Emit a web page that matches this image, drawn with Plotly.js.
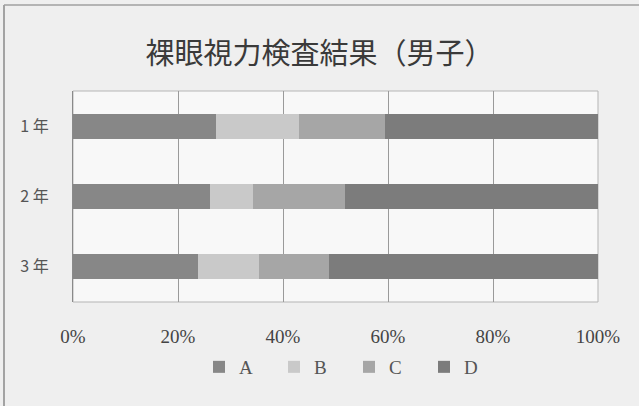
<!DOCTYPE html>
<html>
<head>
<meta charset="utf-8">
<script src="https://cdn.plot.ly/plotly-3.0.1.min.js"></script>
<style>html,body{margin:0;padding:0;background:#efefef;}#chart{width:639px;height:406px;}</style>
</head>
<body>
<div id="chart"></div>
<script>
const grades = ['1 年', '2 年', '3 年'];
const seriesNames = ['A', 'B', 'C', 'D'];
const valuesA = [27.2, 26.1, 23.9];
const valuesB = [15.9, 8.1, 11.5];
const valuesC = [16.3, 17.7, 13.3];
const valuesD = [40.6, 48.1, 51.3];
const xTickVals = [0, 20, 40, 60, 80, 100];
const xTickText = ['0%', '20%', '40%', '60%', '80%', '100%'];
const titleText = '裸眼視力検査結果（男子）';

const allValues = [valuesA, valuesB, valuesC, valuesD];
const colors = ['#878787', '#c9c9c9', '#a6a6a6', '#7c7c7c'];

const traces = allValues.map((vals, i) => ({
  type: 'bar',
  orientation: 'h',
  name: seriesNames[i],
  y: grades,
  x: vals,
  marker: {color: colors[i], line: {width: 0}},
  hoverinfo: 'none'
}));

const W = 525, H = 211, L = 73, T = 91;
const px = x => (x - L) / W;
const py = y => (T + H - y) / H;

const layout = {
  width: 639, height: 406,
  margin: {l: 73, r: 41, t: 91, b: 104},
  paper_bgcolor: '#efefef',
  plot_bgcolor: '#f8f8f8',
  barmode: 'stack',
  bargap: 0.64,
  showlegend: true,
  title: {
    text: titleText,
    font: {family: 'Noto Sans CJK JP', size: 29, color: '#3a3a3a'},
    x: 0.5, xanchor: 'center', y: 0.868, yanchor: 'middle'
  },
  xaxis: {
    range: [0, 100],
    tickvals: xTickVals,
    ticktext: xTickText,
    showgrid: true,
    gridcolor: '#9a9a9a',
    gridwidth: 1,
    zeroline: false,
    showline: false,
    ticks: '',
    ticklabelstandoff: 21,
    tickfont: {family: 'Liberation Serif, DejaVu Serif, serif', size: 19, color: '#444'},
    fixedrange: true
  },
  yaxis: {
    autorange: 'reversed',
    showgrid: false,
    zeroline: false,
    showline: true,
    linecolor: '#8a8a8a',
    linewidth: 1,
    ticks: '',
    ticklabelstandoff: 20,
    tickfont: {family: 'Noto Sans CJK JP', size: 16, color: '#555'},
    fixedrange: true
  },
  legend: {
    orientation: 'h',
    x: px(199), xanchor: 'left',
    y: py(367), yanchor: 'middle',
    font: {family: 'Liberation Serif, DejaVu Serif, serif', size: 19, color: '#555'},
    bgcolor: 'rgba(0,0,0,0)',
    itemwidth: 30,
    entrywidth: 30,
    entrywidthmode: 'pixels',
    traceorder: 'normal',
    itemclick: false
  },
  shapes: [
    {type: 'rect', xref: 'paper', yref: 'paper', x0: 0, x1: 1, y0: 0, y1: 1,
     line: {color: '#b5b5b5', width: 1}, layer: 'below'},
    {type: 'line', xref: 'paper', yref: 'paper', x0: px(4), x1: px(4), y0: py(5), y1: py(406),
     line: {color: '#8a8a8a', width: 1.5}},
    {type: 'line', xref: 'paper', yref: 'paper', x0: px(4), x1: px(639), y0: py(5), y1: py(5),
     line: {color: '#a0a0a0', width: 1.5}}
  ]
};

Plotly.newPlot('chart', traces, layout, {displayModeBar: false, staticPlot: true});
</script>
</body>
</html>
